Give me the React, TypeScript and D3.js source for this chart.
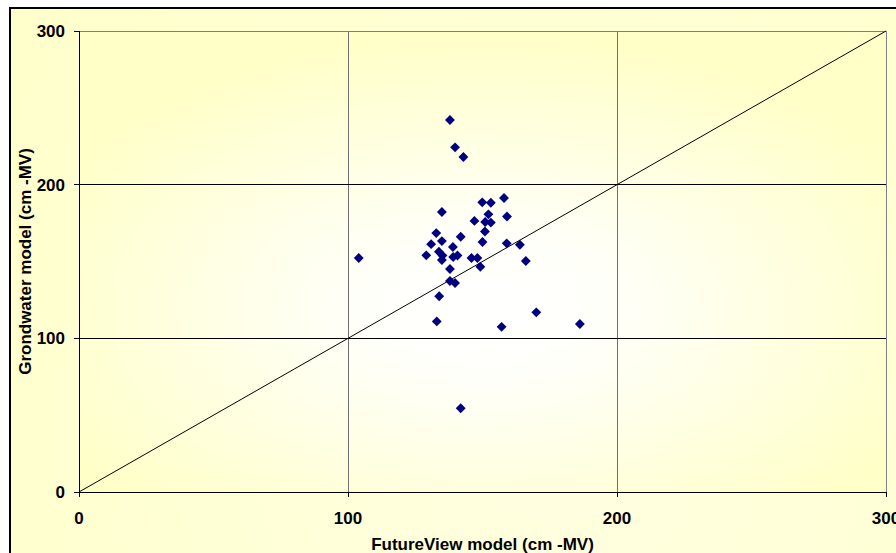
import React from "react";
import * as d3 from "d3";

const futureView: number[] = [
  104.0, 137.9, 139.8, 142.9, 134.9, 149.9, 153.1, 158.0, 152.2, 159.1,
  147.0, 151.0, 153.1, 150.9, 141.9, 132.8, 150.0, 134.9, 130.9, 139.0,
  159.0, 163.9, 166.1, 129.1, 133.8, 135.1, 134.9, 139.1, 140.7, 145.9,
  148.1, 149.2, 137.9, 137.9, 139.8, 133.9, 133.0, 157.1, 170.0, 186.2,
  141.9,
];
const grondwater: number[] = [
  152.3, 242.1, 224.3, 218.0, 182.2, 188.5, 188.2, 191.3, 180.7, 179.3,
  176.4, 175.7, 175.3, 169.5, 166.1, 168.5, 162.7, 163.3, 161.3, 159.4,
  161.8, 160.9, 150.3, 154.0, 156.4, 153.9, 151.0, 152.9, 153.9, 152.3,
  152.3, 146.6, 145.1, 137.3, 136.0, 127.4, 111.0, 107.5, 116.9, 109.3,
  54.5,
];
const tickValues: number[] = [0, 100, 200, 300];
const xTitle = "FutureView model (cm -MV)";
const yTitle = "Grondwater model (cm -MV)";

export default function App() {
  const W = 896;
  const H = 553;
  const left = 79, right = 886, top = 31, bottom = 492;
  const x = d3.scaleLinear().domain([0, 300]).range([left, right]);
  const y = d3.scaleLinear().domain([0, 300]).range([bottom, top]);
  const diamond = d3.symbol().type(d3.symbolDiamond2).size(62)();
  const font = "'Liberation Sans', Arial, sans-serif";
  const fs = 17;

  return (
    <svg
      width={W}
      height={H}
      style={{ position: "fixed", left: 0, top: 0, display: "block" }}
      xmlns="http://www.w3.org/2000/svg"
    >
      <defs>
        <radialGradient id="outerGrad" gradientUnits="userSpaceOnUse" cx={560} cy={430} r={650}>
          <stop offset="0%" stopColor="#FFFFE2" />
          <stop offset="100%" stopColor="#FFFFCC" />
        </radialGradient>
        <radialGradient id="plotGrad" cx="50%" cy="60%" r="60%">
          <stop offset="0%" stopColor="#FFFFFF" />
          <stop offset="25%" stopColor="#FFFFFA" />
          <stop offset="100%" stopColor="#FFFFC8" />
        </radialGradient>
      </defs>
      <rect x={0} y={0} width={W} height={H} fill="#FFFFFF" />
      <rect x={10} y={8} width={W + 20} height={H + 20} fill="url(#outerGrad)" stroke="#000" strokeWidth={2} />
      <rect x={left} y={top} width={right - left} height={bottom - top} fill="url(#plotGrad)" />

      {tickValues.slice(1, 3).map((v) => (
        <line key={"vx" + v} x1={x(v)} x2={x(v)} y1={top} y2={bottom} stroke="#707070" strokeWidth={1} shapeRendering="crispEdges" />
      ))}
      {tickValues.slice(1, 3).map((v) => (
        <line key={"hy" + v} x1={left} x2={right} y1={y(v)} y2={y(v)} stroke="#000" strokeWidth={1} shapeRendering="crispEdges" />
      ))}
      <line x1={left} x2={right} y1={top} y2={top} stroke="#808080" strokeWidth={1} shapeRendering="crispEdges" />
      <line x1={right} x2={right} y1={top} y2={bottom} stroke="#808080" strokeWidth={1} shapeRendering="crispEdges" />

      <line x1={x(0)} y1={y(0)} x2={x(300)} y2={y(300)} stroke="#000" strokeWidth={1} />

      <line x1={left} x2={left} y1={top} y2={bottom} stroke="#000" strokeWidth={1} shapeRendering="crispEdges" />
      <line x1={left} x2={right} y1={bottom} y2={bottom} stroke="#000" strokeWidth={1} shapeRendering="crispEdges" />
      {tickValues.map((v) => (
        <g key={"yt" + v}>
          <line x1={left - 5} x2={left} y1={y(v)} y2={y(v)} stroke="#000" strokeWidth={1} shapeRendering="crispEdges" />
          <text x={65} y={y(v)} dy="0.36em" textAnchor="end" fontFamily={font} fontWeight="bold" fontSize={fs} fill="#000">
            {v}
          </text>
        </g>
      ))}
      {tickValues.map((v) => (
        <g key={"xt" + v}>
          <line x1={x(v)} x2={x(v)} y1={bottom} y2={bottom + 5} stroke="#000" strokeWidth={1} shapeRendering="crispEdges" />
          <text x={x(v)} y={523.5} textAnchor="middle" fontFamily={font} fontWeight="bold" fontSize={fs} fill="#000">
            {v}
          </text>
        </g>
      ))}

      {futureView.map((fv, i) => (
        <path key={"p" + i} d={diamond || ""} transform={`translate(${x(fv)},${y(grondwater[i])})`} fill="#000080" />
      ))}

      <text x={(left + right) / 2} y={550} textAnchor="middle" fontFamily={font} fontWeight="bold" fontSize={fs} fill="#000">
        {xTitle}
      </text>
      <text
        transform={`translate(31,${(top + bottom) / 2}) rotate(-90)`}
        textAnchor="middle"
        fontFamily={font}
        fontWeight="bold"
        fontSize={fs}
        fill="#000"
      >
        {yTitle}
      </text>
    </svg>
  );
}
